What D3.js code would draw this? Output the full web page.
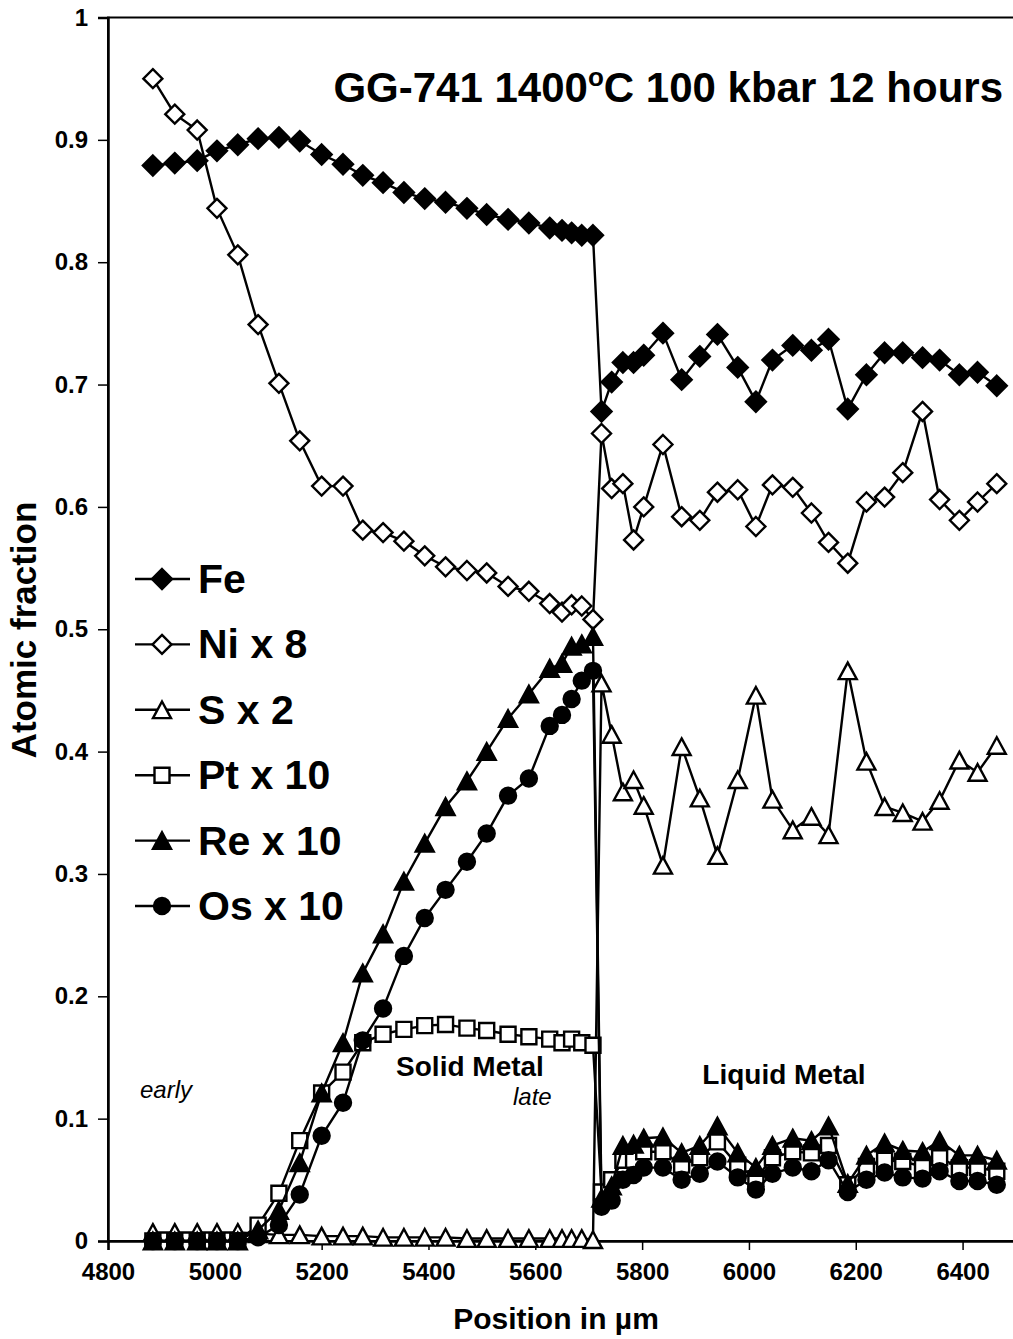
<!DOCTYPE html>
<html>
<head>
<meta charset="utf-8">
<script src="https://cdn.jsdelivr.net/npm/d3@7"></script>
<style>
  body { margin: 0; background: #fff; }
  text { font-family: "Liberation Sans", Arial, sans-serif; fill: #000; }
</style>
</head>
<body>
<div id="chart"></div>
<script>
// Positions in micrometres (solid part, then liquid part)
const positions = [
  4884, 4925, 4967, 5004, 5043, 5081, 5120, 5159, 5200, 5240, 5277, 5315,
  5354, 5393, 5432, 5472, 5509, 5549, 5588, 5627, 5650, 5668, 5687, 5708,
  5724, 5743, 5764, 5784, 5803, 5839, 5874, 5908, 5941, 5979, 6013, 6044,
  6082, 6117, 6149, 6185, 6220, 6254, 6288, 6325, 6357, 6394, 6428, 6464
];

const fe = [
  0.879, 0.881, 0.883, 0.891, 0.896, 0.901, 0.902, 0.899, 0.888, 0.880, 0.871, 0.865,
  0.857, 0.852, 0.849, 0.844, 0.839, 0.835, 0.832, 0.828, 0.826, 0.824, 0.822, 0.822,
  0.678, 0.702, 0.718, 0.718, 0.724, 0.742, 0.704, 0.723, 0.741, 0.714, 0.686, 0.720,
  0.732, 0.728, 0.737, 0.680, 0.708, 0.726, 0.726, 0.722, 0.720, 0.708, 0.710, 0.699
];

const niX8 = [
  0.950, 0.921, 0.908, 0.844, 0.806, 0.749, 0.701, 0.654, 0.617, 0.617, 0.581, 0.579,
  0.572, 0.560, 0.551, 0.548, 0.546, 0.535, 0.531, 0.521, 0.514, 0.520, 0.519, 0.508,
  0.660, 0.615, 0.619, 0.573, 0.600, 0.651, 0.592, 0.589, 0.612, 0.614, 0.584, 0.618,
  0.616, 0.595, 0.571, 0.554, 0.604, 0.608, 0.628, 0.678, 0.606, 0.589, 0.604, 0.619
];

const sX2 = [
  0.007, 0.007, 0.007, 0.007, 0.007, 0.006, 0.005, 0.005, 0.004, 0.004, 0.004, 0.003,
  0.003, 0.003, 0.003, 0.002, 0.002, 0.002, 0.002, 0.002, 0.002, 0.002, 0.002, 0.001,
  0.456, 0.414, 0.367, 0.377, 0.356, 0.307, 0.404, 0.362, 0.315, 0.377, 0.446, 0.361,
  0.336, 0.347, 0.332, 0.466, 0.392, 0.355, 0.350, 0.343, 0.360, 0.393, 0.383, 0.405
];

const ptX10 = [
  0, 0, 0, 0, 0, 0.013, 0.039, 0.082, 0.121, 0.138, 0.162, 0.169,
  0.173, 0.176, 0.177, 0.174, 0.172, 0.169, 0.167, 0.165, 0.162, 0.165, 0.162, 0.160,
  0.040, 0.050, 0.066, 0.066, 0.073, 0.073, 0.062, 0.068, 0.081, 0.062, 0.051, 0.068,
  0.073, 0.072, 0.078, 0.046, 0.061, 0.066, 0.065, 0.061, 0.068, 0.060, 0.060, 0.057
];

const reX10 = [
  0, 0, 0, 0, 0, 0.009, 0.025, 0.064, 0.121, 0.162, 0.219, 0.251,
  0.294, 0.325, 0.355, 0.376, 0.400, 0.427, 0.447, 0.468, 0.472, 0.486, 0.488, 0.494,
  0.035, 0.045, 0.078, 0.079, 0.084, 0.085, 0.072, 0.078, 0.094, 0.072, 0.060, 0.078,
  0.084, 0.082, 0.094, 0.047, 0.070, 0.080, 0.074, 0.073, 0.082, 0.070, 0.070, 0.066
];

const osX10 = [
  0, 0, 0, 0, 0, 0.003, 0.013, 0.038, 0.086, 0.113, 0.164, 0.190,
  0.233, 0.264, 0.287, 0.310, 0.333, 0.364, 0.378, 0.421, 0.430, 0.443, 0.458, 0.466,
  0.028, 0.033, 0.050, 0.054, 0.060, 0.060, 0.050, 0.055, 0.065, 0.052, 0.042, 0.055,
  0.060, 0.057, 0.066, 0.040, 0.050, 0.056, 0.052, 0.051, 0.057, 0.049, 0.049, 0.046
];

const xTicks = [4800, 5000, 5200, 5400, 5600, 5800, 6000, 6200, 6400];
const yTicks = [0, 0.1, 0.2, 0.3, 0.4, 0.5, 0.6, 0.7, 0.8, 0.9, 1];
const yTickLabels = ['0', '0.1', '0.2', '0.3', '0.4', '0.5', '0.6', '0.7', '0.8', '0.9', '1'];

// custom marker shapes (centred on their bounding box)
const diamondShape = {
  draw(ctx, size) {
    const h = Math.sqrt(size) / 2;
    ctx.moveTo(0, -h); ctx.lineTo(h, 0); ctx.lineTo(0, h); ctx.lineTo(-h, 0); ctx.closePath();
  }
};
const triangleShape = {
  draw(ctx, size) {
    const w = Math.sqrt(size), h = w * 0.92;
    ctx.moveTo(0, -h / 2); ctx.lineTo(w / 2, h / 2); ctx.lineTo(-w / 2, h / 2); ctx.closePath();
  }
};

const series = [
  { name: 'Fe', values: fe, shape: diamondShape, size: 20 * 20, fill: '#000' },
  { name: 'Ni x 8', values: niX8, shape: diamondShape, size: 19 * 19, fill: '#fff' },
  { name: 'S x 2', values: sX2, shape: triangleShape, size: 18 * 18, fill: '#fff' },
  { name: 'Pt x 10', values: ptX10, shape: d3.symbolSquare, size: 15 * 15, fill: '#fff' },
  { name: 'Re x 10', values: reX10, shape: triangleShape, size: 18 * 18, fill: '#000' },
  { name: 'Os x 10', values: osX10, shape: d3.symbolCircle, size: Math.PI * 8 * 8, fill: '#000' }
];

const width = 1013, height = 1339;
const svg = d3.select('#chart').append('svg')
  .attr('width', width)
  .attr('height', height);

const x = d3.scaleLinear().domain([4800, 6500]).range([108, 1016]);
const y = d3.scaleLinear().domain([0, 1]).range([1241, 17.5]);

// plot frame
svg.append('rect')
  .attr('x', x(4800)).attr('y', y(1))
  .attr('width', x(6500) - x(4800)).attr('height', y(0) - y(1))
  .attr('fill', 'none').attr('stroke', '#000').attr('stroke-width', 2);

// axes
const xAxis = svg.append('g')
  .attr('transform', `translate(0,${y(0)})`)
  .call(d3.axisBottom(x).tickValues(xTicks).tickSize(9).tickPadding(12)
    .tickFormat(d3.format('d')));
const yAxis = svg.append('g')
  .attr('transform', `translate(${x(4800)},0)`)
  .call(d3.axisLeft(y).tickValues(yTicks).tickSize(10).tickPadding(10)
    .tickFormat((d, i) => yTickLabels[i]));

[xAxis, yAxis].forEach(g => {
  g.select('.domain').attr('stroke-width', 2.5);
  g.selectAll('.tick line').attr('stroke-width', 1.5);
  g.selectAll('.tick text')
    .style('font-family', '"Liberation Sans", Arial, sans-serif')
    .style('font-weight', 'bold')
    .attr('fill', '#000');
});
xAxis.selectAll('.tick text').style('font-size', '24px').attr('dy', '0.75em');
yAxis.selectAll('.tick text').style('font-size', '24px');

// series: line then markers
const line = d3.line().x((d, i) => x(positions[i])).y(d => y(d));
series.forEach(s => {
  svg.append('path')
    .datum(s.values)
    .attr('d', line)
    .attr('fill', 'none')
    .attr('stroke', '#000')
    .attr('stroke-width', 2.4);

  svg.append('g').selectAll('path')
    .data(s.values)
    .enter()
    .append('path')
    .attr('transform', (d, i) => `translate(${x(positions[i])},${y(d)})`)
    .attr('d', d3.symbol().type(s.shape).size(s.size))
    .attr('fill', s.fill)
    .attr('stroke', '#000')
    .attr('stroke-width', 2.4);
});

// legend
const legend = svg.append('g');
series.forEach((s, i) => {
  const cy = 579 + i * 65.4;
  legend.append('line')
    .attr('x1', 135).attr('x2', 190).attr('y1', cy).attr('y2', cy)
    .attr('stroke', '#000').attr('stroke-width', 2.4);
  legend.append('path')
    .attr('transform', `translate(162,${cy})`)
    .attr('d', d3.symbol().type(s.shape).size(s.size))
    .attr('fill', s.fill)
    .attr('stroke', '#000')
    .attr('stroke-width', 2.4);
  legend.append('text')
    .attr('x', 198).attr('y', cy + 14)
    .style('font-size', '41px').style('font-weight', 'bold')
    .text(s.name);
});

// title
const title = svg.append('text')
  .attr('x', 1003).attr('y', 102)
  .attr('text-anchor', 'end')
  .style('font-size', '42px').style('font-weight', 'bold');
title.append('tspan').text('GG-741 1400');
title.append('tspan').attr('dy', -16).style('font-size', '26px').text('o');
title.append('tspan').attr('dy', 16).text('C 100 kbar 12 hours');

// annotations
svg.append('text').attr('x', 470).attr('y', 1076).attr('text-anchor', 'middle')
  .style('font-size', '28px').style('font-weight', 'bold').text('Solid Metal');
svg.append('text').attr('x', 784).attr('y', 1084).attr('text-anchor', 'middle')
  .style('font-size', '28px').style('font-weight', 'bold').text('Liquid Metal');
svg.append('text').attr('x', 140).attr('y', 1098)
  .style('font-size', '24px').style('font-style', 'italic').text('early');
svg.append('text').attr('x', 513).attr('y', 1105)
  .style('font-size', '24px').style('font-style', 'italic').text('late');

// axis titles
svg.append('text').attr('x', 556).attr('y', 1329).attr('text-anchor', 'middle')
  .style('font-size', '30px').style('font-weight', 'bold').text('Position in µm');
svg.append('text')
  .attr('transform', 'translate(36,630) rotate(-90)')
  .attr('text-anchor', 'middle')
  .style('font-size', '35px').style('font-weight', 'bold').text('Atomic fraction');
</script>
</body>
</html>
